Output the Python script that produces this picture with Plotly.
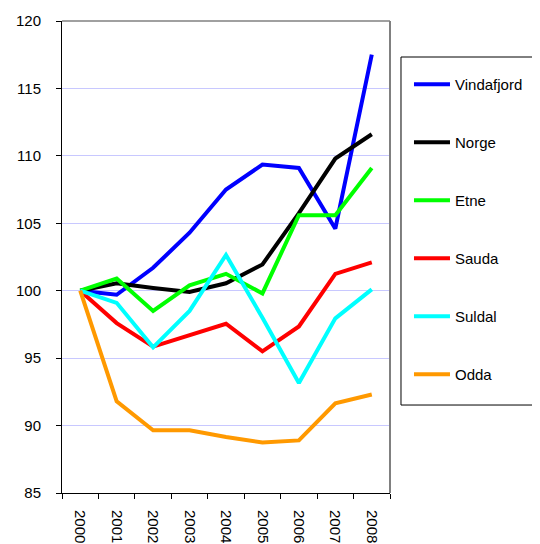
import plotly.graph_objects as go

years = ["2000", "2001", "2002", "2003", "2004", "2005", "2006", "2007", "2008"]
vindafjord = [100, 99.7, 101.7, 104.3, 107.5, 109.35, 109.1, 104.6, 117.5]
norge = [100, 100.55, 100.2, 99.9, 100.55, 101.95, 105.75, 109.8, 111.6]
etne = [100, 100.9, 98.5, 100.4, 101.25, 99.8, 105.6, 105.6, 109.1]
sauda = [100, 97.6, 95.85, 96.7, 97.55, 95.5, 97.35, 101.25, 102.1]
suldal = [100, 99.1, 95.8, 98.5, 102.65, 98.0, 93.15, 97.95, 100.1]
odda = [100, 91.8, 89.65, 89.65, 89.15, 88.75, 88.9, 91.65, 92.3]

series = [
    ("Vindafjord", vindafjord, "#0000ff"),
    ("Norge", norge, "#000000"),
    ("Etne", etne, "#00ff00"),
    ("Sauda", sauda, "#ff0000"),
    ("Suldal", suldal, "#00ffff"),
    ("Odda", odda, "#ff9900"),
]

fig = go.Figure()
for i, (name, vals, col) in enumerate(series):
    fig.add_trace(go.Scatter(x=years, y=vals, name=name, mode="lines",
                             line=dict(color=col, width=4),
                             legendgroup=f"g{i}"))

fig.update_layout(
    width=540, height=544,
    margin=dict(l=54, r=158, t=13, b=59, autoexpand=False),
    paper_bgcolor="white", plot_bgcolor="white",
    font=dict(family="Liberation Sans, Arial, sans-serif", size=15, color="black"),
    showlegend=True,
    legend=dict(x=1.0579, y=0.9004, xanchor="left", yanchor="top",
                borderwidth=0, bgcolor="rgba(0,0,0,0)",
                tracegroupgap=35.5, itemwidth=36,
                font=dict(size=15)),
    xaxis=dict(type="category", tickson="boundaries", ticks="outside", ticklen=5,
               tickcolor="black", showline=True, linecolor="black", linewidth=1,
               showgrid=False, tickangle=90, zeroline=False, range=[-0.5, 8.5],
               automargin=False, ticklabelstandoff=13),
    yaxis=dict(range=[85, 120], dtick=5, ticks="outside", ticklen=5, tickcolor="black",
               showline=True, linecolor="black", linewidth=1, automargin=False,
               ticklabelstandoff=12,
               showgrid=True, gridcolor="#c8c8ff", gridwidth=1, zeroline=False),
    shapes=[dict(type="line", xref="paper", yref="paper", x0=0, x1=1, y0=1, y1=1,
                 line=dict(color="#808080", width=1.5)),
            dict(type="line", xref="paper", yref="paper", x0=1, x1=1, y0=0, y1=1,
                 line=dict(color="#808080", width=2)),
            dict(type="rect", xref="paper", yref="paper", x0=1.0335, x1=1.6,
                 y0=0.1864, y1=0.9237, line=dict(color="black", width=1),
                 fillcolor="white", layer="below")],
)

fig.write_html("out.html")
